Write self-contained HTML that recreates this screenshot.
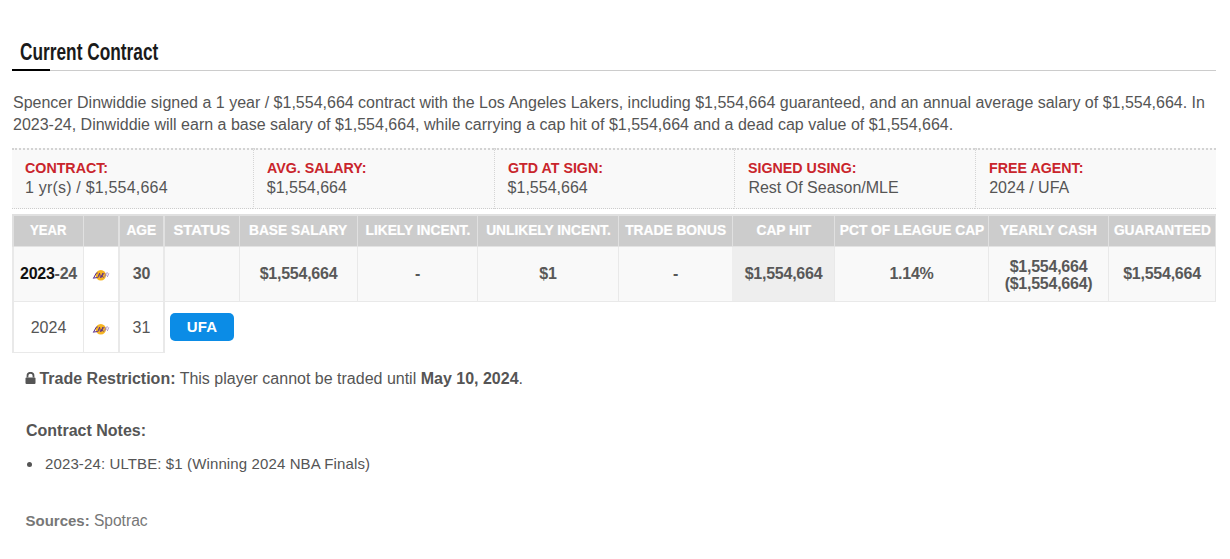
<!DOCTYPE html>
<html><head><meta charset="utf-8">
<style>
html,body{margin:0;padding:0;background:#fff;width:1230px;height:559px;overflow:hidden;position:relative;font-family:"Liberation Sans",sans-serif;}
.a{position:absolute;white-space:nowrap;}
#title{left:19.5px;top:37px;font-size:24px;line-height:30px;font-weight:700;color:#1a1a1a;transform:scaleX(0.72);transform-origin:0 0;}
#hline{left:12px;top:70px;width:1204px;height:1px;background:#ccc;}
#hbar{left:12px;top:69px;width:38px;height:2px;background:#000;}
.para{left:13px;font-size:16px;line-height:22px;color:#555;}
.ib{position:absolute;top:148px;width:240.8px;height:61px;box-sizing:border-box;border-top:2px dotted #d3d3d3;border-bottom:1px dotted #ccc;border-left:1px dotted #d5d5d5;background:#f9f9f9;}
.box{position:absolute;top:0;height:58px;}
.div{position:absolute;top:0;width:0;height:58px;border-left:1px dotted #d5d5d5;}
.lab{position:absolute;left:13px;top:9px;font-size:15px;line-height:18px;font-weight:700;color:#c9252c;white-space:nowrap;transform:scaleX(0.95);transform-origin:0 0;}
.val{position:absolute;left:13px;top:28px;font-size:16px;line-height:20px;color:#555;white-space:nowrap;}
.th{position:absolute;top:215px;height:30px;color:#fff;font-weight:700;font-size:16px;line-height:30px;display:flex;justify-content:center;white-space:nowrap;}
.th span{display:inline-block;transform:scale(0.86,0.95);flex:none;-webkit-text-stroke:0.25px #fff;}
.td{position:absolute;top:247px;height:54px;color:#585858;font-weight:700;font-size:16px;line-height:54px;text-align:center;white-space:nowrap;letter-spacing:-0.25px;}
.two{display:inline-block;line-height:17px;vertical-align:middle;}
.logo{vertical-align:middle;}
.r2{position:absolute;top:303px;height:50px;color:#555;font-size:16px;line-height:50px;text-align:center;white-space:nowrap;}
#ufa{position:absolute;left:170px;top:313px;width:64px;height:28px;border-radius:5px;background:#0b8ce6;color:#fff;font-weight:700;font-size:15px;line-height:28px;letter-spacing:0.2px;text-align:center;}
.bt{position:absolute;font-size:16px;line-height:20px;color:#555;white-space:nowrap;}
</style></head><body>
<div class="a" id="title">Current Contract</div>
<div class="a" id="hline"></div>
<div class="a" id="hbar"></div>
<div class="a para" style="top:92px">Spencer Dinwiddie signed a 1 year / $1,554,664 contract with the Los Angeles Lakers, including $1,554,664 guaranteed, and an annual average salary of $1,554,664. In</div>
<div class="a para" style="top:114px">2023-24, Dinwiddie will earn a base salary of $1,554,664, while carrying a cap hit of $1,554,664 and a dead cap value of $1,554,664.</div>
<div class="ib" style="left:12px;border-left:0"><div class="lab">CONTRACT:</div><div class="val" style="letter-spacing:0.2px">1 yr(s) / $1,554,664</div></div>
<div class="ib" style="left:252.8px"><div class="lab">AVG. SALARY:</div><div class="val">$1,554,664</div></div>
<div class="ib" style="left:493.6px"><div class="lab">GTD AT SIGN:</div><div class="val">$1,554,664</div></div>
<div class="ib" style="left:734.4px"><div class="lab">SIGNED USING:</div><div class="val">Rest Of Season/MLE</div></div>
<div class="ib" style="left:975.2px"><div class="lab">FREE AGENT:</div><div class="val">2024 / UFA</div></div>
<div class="a" style="left:12px;top:214px;width:1204px;height:2px;background:#e0e0e0"></div>
<div class="a" style="left:14px;top:216px;width:1201px;height:30px;background:#ccc"></div>
<div class="a" style="left:12px;top:246px;width:1204px;height:1px;background:#e3e3e3"></div>
<div class="a" style="left:12px;top:247px;width:1204px;height:54px;background:#f9f9f9"></div>
<div class="a" style="left:12px;top:301px;width:1204px;height:1px;background:#e9e9e9"></div>
<div class="a" style="left:84px;top:247px;width:34px;height:54px;background:#fff"></div>
<div class="a" style="left:732px;top:247px;width:102px;height:54px;background:#eee"></div>
<div class="a" style="left:12px;top:216px;width:2px;height:30px;background:#e0e0e0"></div>
<div class="a" style="left:12px;top:247px;width:2px;height:54px;background:#e9e9e9"></div>
<div class="a" style="left:12px;top:302px;width:2px;height:50px;background:#e9e9e9"></div>
<div class="a" style="left:83px;top:216px;width:1px;height:30px;background:#e0e0e0"></div>
<div class="a" style="left:83px;top:247px;width:1px;height:54px;background:#e9e9e9"></div>
<div class="a" style="left:83px;top:302px;width:1px;height:50px;background:#e9e9e9"></div>
<div class="a" style="left:118px;top:216px;width:2px;height:30px;background:#e0e0e0"></div>
<div class="a" style="left:118px;top:247px;width:2px;height:54px;background:#e9e9e9"></div>
<div class="a" style="left:118px;top:302px;width:2px;height:50px;background:#e9e9e9"></div>
<div class="a" style="left:163px;top:216px;width:2px;height:30px;background:#e0e0e0"></div>
<div class="a" style="left:163px;top:247px;width:2px;height:54px;background:#e9e9e9"></div>
<div class="a" style="left:163px;top:302px;width:2px;height:50px;background:#e9e9e9"></div>
<div class="a" style="left:239px;top:216px;width:1px;height:30px;background:#e0e0e0"></div>
<div class="a" style="left:239px;top:247px;width:1px;height:54px;background:#e9e9e9"></div>
<div class="a" style="left:357px;top:216px;width:1px;height:30px;background:#e0e0e0"></div>
<div class="a" style="left:357px;top:247px;width:1px;height:54px;background:#e9e9e9"></div>
<div class="a" style="left:477px;top:216px;width:1px;height:30px;background:#e0e0e0"></div>
<div class="a" style="left:477px;top:247px;width:1px;height:54px;background:#e9e9e9"></div>
<div class="a" style="left:618px;top:216px;width:1px;height:30px;background:#e0e0e0"></div>
<div class="a" style="left:618px;top:247px;width:1px;height:54px;background:#e9e9e9"></div>
<div class="a" style="left:732px;top:216px;width:1px;height:30px;background:#e0e0e0"></div>
<div class="a" style="left:834px;top:216px;width:1px;height:30px;background:#e0e0e0"></div>
<div class="a" style="left:834px;top:247px;width:1px;height:54px;background:#e9e9e9"></div>
<div class="a" style="left:988px;top:216px;width:1px;height:30px;background:#e0e0e0"></div>
<div class="a" style="left:988px;top:247px;width:1px;height:54px;background:#e9e9e9"></div>
<div class="a" style="left:1108px;top:216px;width:1px;height:30px;background:#e0e0e0"></div>
<div class="a" style="left:1108px;top:247px;width:1px;height:54px;background:#e9e9e9"></div>
<div class="a" style="left:1215px;top:216px;width:1px;height:30px;background:#e0e0e0"></div>
<div class="a" style="left:1215px;top:247px;width:1px;height:54px;background:#e9e9e9"></div>
<div class="a" style="left:12px;top:352px;width:153px;height:1px;background:#e9e9e9"></div>
<div class="th" style="left:14px;width:69px"><span style="transform:scale(0.82,0.95)">YEAR</span></div>
<div class="td" style="left:14px;width:69px"><span style="color:#111">2023</span>-24</div>
<div class="th" style="left:84px;width:34px"><span></span></div>
<div class="td" style="left:84px;width:34px"><svg class="logo" width="20" height="14" viewBox="0 0 20 14"><circle cx="9.8" cy="7.3" r="5.2" fill="#f6b523"/><g stroke="#5a2d8c" stroke-width="1" fill="none" stroke-linecap="round"><path d="M2.5 10.2 L5.2 5.2 L6.3 5 M3 10 L6 9.6"/><path d="M6.8 9.6 L8.6 5.2 L9.4 9.4"/><path d="M10.2 9.4 L11.8 5.3 M11 7.5 L13 5.4 M11 7.5 L12.2 9.3"/></g><g stroke="#8a6ab8" stroke-width="0.9" fill="none" opacity="0.75"><path d="M13.4 9.2 L15.2 5.1 L17 4.9 M14.2 7.2 L16 7"/><path d="M16.3 9 L17.8 5.3"/></g></svg></div>
<div class="th" style="left:120px;width:43px"><span>AGE</span></div>
<div class="td" style="left:120px;width:43px">30</div>
<div class="th" style="left:165px;width:74px"><span style="transform:scale(0.92,0.95)">STATUS</span></div>
<div class="td" style="left:165px;width:74px"></div>
<div class="th" style="left:240px;width:117px"><span>BASE SALARY</span></div>
<div class="td" style="left:240px;width:117px">$1,554,664</div>
<div class="th" style="left:358px;width:119px"><span>LIKELY INCENT.</span></div>
<div class="td" style="left:358px;width:119px">-</div>
<div class="th" style="left:478px;width:140px"><span>UNLIKELY INCENT.</span></div>
<div class="td" style="left:478px;width:140px">$1</div>
<div class="th" style="left:619px;width:113px"><span>TRADE BONUS</span></div>
<div class="td" style="left:619px;width:113px">-</div>
<div class="th" style="left:733px;width:101px"><span>CAP HIT</span></div>
<div class="td" style="left:733px;width:101px">$1,554,664</div>
<div class="th" style="left:835px;width:153px"><span>PCT OF LEAGUE CAP</span></div>
<div class="td" style="left:835px;width:153px">1.14%</div>
<div class="th" style="left:989px;width:119px"><span>YEARLY CASH</span></div>
<div class="td" style="left:989px;width:119px"><span class="two">$1,554,664<br>($1,554,664)</span></div>
<div class="th" style="left:1109px;width:106px"><span>GUARANTEED</span></div>
<div class="td" style="left:1109px;width:106px">$1,554,664</div>
<div class="r2" style="left:14px;width:69px">2024</div>
<div class="r2" style="left:84px;width:34px"><svg class="logo" width="20" height="14" viewBox="0 0 20 14"><circle cx="9.8" cy="7.3" r="5.2" fill="#f6b523"/><g stroke="#5a2d8c" stroke-width="1" fill="none" stroke-linecap="round"><path d="M2.5 10.2 L5.2 5.2 L6.3 5 M3 10 L6 9.6"/><path d="M6.8 9.6 L8.6 5.2 L9.4 9.4"/><path d="M10.2 9.4 L11.8 5.3 M11 7.5 L13 5.4 M11 7.5 L12.2 9.3"/></g><g stroke="#8a6ab8" stroke-width="0.9" fill="none" opacity="0.75"><path d="M13.4 9.2 L15.2 5.1 L17 4.9 M14.2 7.2 L16 7"/><path d="M16.3 9 L17.8 5.3"/></g></svg></div>
<div class="r2" style="left:120px;width:43px">31</div>
<div id="ufa">UFA</div>
<div class="bt" style="left:25px;top:369px"><svg width="11" height="12" viewBox="0 0 11 12" style="vertical-align:0px;margin-right:-1px"><path d="M2.5 5.5 V3.8 A3 3 0 0 1 8.5 3.8 V5.5" stroke="#555" stroke-width="1.8" fill="none"/><rect x="0.5" y="5.5" width="10" height="6.5" rx="1" fill="#555"/></svg> <b>Trade Restriction:</b> This player cannot be traded until <b>May 10, 2024</b>.</div>
<div class="bt" style="left:26px;top:421px"><b>Contract Notes:</b></div>
<div class="a" style="left:27px;top:462px;width:5px;height:5px;border-radius:50%;background:#555"></div>
<div class="bt" style="left:45px;top:454px;font-size:15px;letter-spacing:0.12px">2023-24: ULTBE: $1 (Winning 2024 NBA Finals)</div>
<div class="bt" style="left:25.5px;top:511px;color:#777;font-size:15px"><b>Sources:</b> <span style="font-size:15.6px">Spotrac</span></div>
</body></html>
